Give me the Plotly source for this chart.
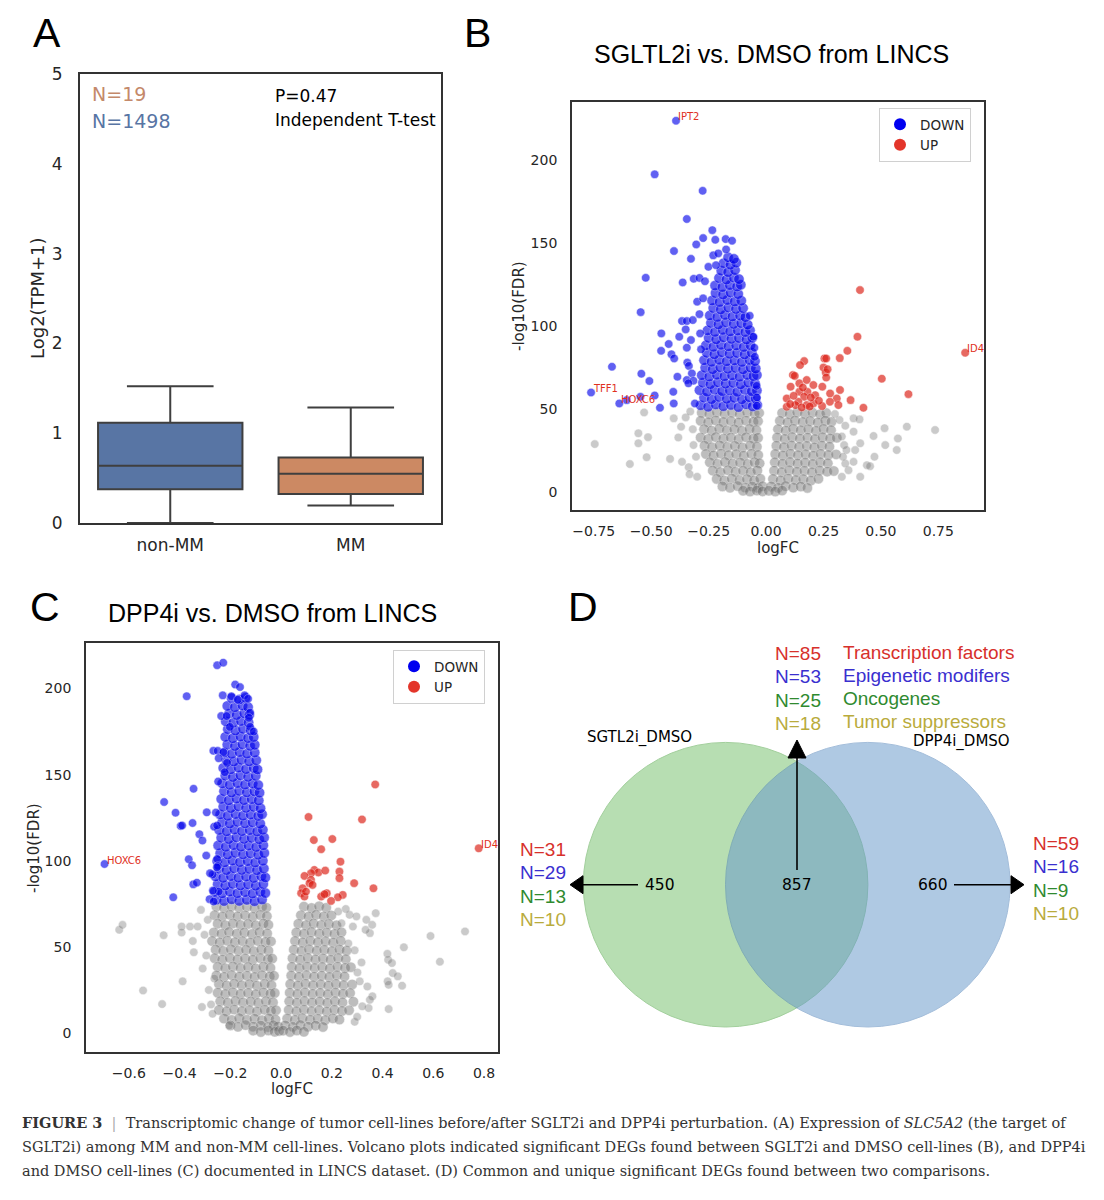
import plotly.graph_objects as go

# ---------- CONFIG ----------
W, H = 1104, 1200
SANS = "Liberation Sans, Arial, sans-serif"
DJV = "DejaVu Sans, sans-serif"
SERIF = "DejaVu Serif, serif"
INK = "#262626"
FRAME = "#333333"

BLUE = "rgb(0,0,235)"
RED = "rgb(220,35,25)"
GRAY = "rgb(110,110,110)"

# ---------- DATA: panel A (box summary) ----------
A_GROUPS = ["non-MM", "MM"]
A_Q1 = [0.377, 0.324]
A_MED = [0.638, 0.548]
A_Q3 = [1.117, 0.730]
A_LO = [0.0, 0.195]
A_HI = [1.524, 1.287]
A_FILL = ["#5875a4", "#cc8963"]
A_N_MM, A_N_NONMM = 19, 1498
A_PVAL = 0.47
A_YTICKS = [0, 1, 2, 3, 4, 5]

# ---------- DATA: panel B (SGLT2i vs DMSO), (logFC, -log10 FDR) ----------
B_DOWN_OUT = [
    (-0.392, 223.7), (-0.485, 191.4), (-0.276, 181.5), (-0.345, 164.5), (-0.234, 157.8),
    (-0.274, 153.0), (-0.221, 152.0), (-0.176, 152.4), (-0.148, 151.4), (-0.304, 149.2),
    (-0.401, 145.2), (-0.174, 146.2), (-0.230, 142.6), (-0.208, 143.8), (-0.327, 140.5),
    (-0.524, 129.1), (-0.546, 108.4), (-0.363, 126.3), (-0.315, 128.5), (-0.290, 129.0),
    (-0.266, 127.0), (-0.671, 75.5), (-0.762, 60.0), (-0.639, 53.4), (-0.607, 55.4),
    (-0.543, 71.3), (-0.508, 66.9), (-0.547, 57.4), (-0.485, 58.2), (-0.462, 50.8),
    (-0.456, 95.6), (-0.424, 89.2), (-0.457, 85.1), (-0.412, 83.0), (-0.400, 80.5),
    (-0.386, 69.5), (-0.404, 60.4), (-0.402, 53.4), (-0.378, 93.6), (-0.366, 103.0),
    (-0.345, 103.0), (-0.350, 98.0), (-0.327, 91.6), (-0.345, 87.0), (-0.343, 78.0),
    (-0.336, 76.0), (-0.319, 103.6), (-0.290, 107.2), (-0.300, 114.7), (-0.274, 116.7),
    (-0.287, 95.6), (-0.283, 86.0), (-0.310, 53.4), (-0.071, 106.2), (-0.055, 93.6),
    (-0.051, 87.0), (-0.049, 81.5), (-0.041, 64.0), (-0.040, 57.0), (-0.040, 52.0),
    (-0.323, 71.5), (-0.345, 67.5), (-0.316, 67.1), (-0.338, 65.5), (-0.251, 135.7),
    (-0.218, 136.7),
]
B_DOWN_CORE = [
    (-0.285, 52.3), (-0.252, 51.4), (-0.219, 52.8), (-0.186, 51.7), (-0.153, 52.5), (-0.120, 51.2), (-0.087, 52.9), (-0.058, 51.6), (-0.038, 52.4),
    (-0.270, 56.9), (-0.237, 56.0), (-0.204, 57.3), (-0.171, 56.2), (-0.138, 56.8), (-0.105, 55.9), (-0.072, 57.1), (-0.045, 56.3),
    (-0.290, 61.4), (-0.257, 60.5), (-0.224, 61.7), (-0.191, 60.8), (-0.158, 61.3), (-0.125, 60.4), (-0.092, 61.6), (-0.062, 60.7), (-0.040, 61.2),
    (-0.275, 65.9), (-0.242, 65.0), (-0.209, 66.1), (-0.176, 65.3), (-0.143, 65.8), (-0.110, 64.9), (-0.077, 66.0), (-0.048, 65.4),
    (-0.280, 70.4), (-0.247, 69.6), (-0.214, 70.7), (-0.181, 69.8), (-0.148, 70.3), (-0.115, 69.5), (-0.082, 70.6), (-0.055, 69.9), (-0.040, 70.5),
    (-0.265, 74.9), (-0.232, 74.0), (-0.199, 75.2), (-0.166, 74.3), (-0.133, 74.8), (-0.100, 73.9), (-0.067, 75.0), (-0.045, 74.4),
    (-0.270, 79.4), (-0.237, 78.5), (-0.204, 79.7), (-0.171, 78.8), (-0.138, 79.3), (-0.105, 78.4), (-0.072, 79.6), (-0.048, 78.9),
    (-0.258, 83.9), (-0.225, 83.0), (-0.192, 84.2), (-0.159, 83.3), (-0.126, 83.8), (-0.093, 82.9), (-0.062, 84.0),
    (-0.262, 88.4), (-0.229, 87.5), (-0.196, 88.7), (-0.163, 87.8), (-0.130, 88.3), (-0.097, 87.4), (-0.068, 88.5),
    (-0.250, 92.9), (-0.217, 92.0), (-0.184, 93.2), (-0.151, 92.3), (-0.118, 92.8), (-0.085, 91.9), (-0.060, 93.0),
    (-0.255, 97.4), (-0.222, 96.5), (-0.189, 97.7), (-0.156, 96.8), (-0.123, 97.3), (-0.090, 96.4), (-0.070, 97.5),
    (-0.240, 101.9), (-0.207, 101.0), (-0.174, 102.2), (-0.141, 101.3), (-0.108, 101.8), (-0.080, 100.9),
    (-0.245, 106.4), (-0.212, 105.5), (-0.179, 106.7), (-0.146, 105.8), (-0.113, 106.3), (-0.090, 105.4),
    (-0.230, 110.9), (-0.197, 110.0), (-0.164, 111.2), (-0.131, 110.3), (-0.100, 110.8),
    (-0.235, 115.4), (-0.202, 114.5), (-0.169, 115.7), (-0.136, 114.8), (-0.108, 115.3),
    (-0.220, 119.9), (-0.187, 119.0), (-0.154, 120.2), (-0.121, 119.3),
    (-0.222, 124.4), (-0.190, 123.5), (-0.158, 124.7), (-0.126, 123.8), (-0.110, 124.9),
    (-0.205, 128.9), (-0.172, 128.0), (-0.140, 129.2), (-0.118, 128.3),
    (-0.195, 133.4), (-0.165, 132.5), (-0.135, 133.7),
    (-0.185, 137.9), (-0.155, 137.0), (-0.130, 138.2),
    (-0.165, 141.4), (-0.140, 140.5),
]

B_UP = [
    (0.409, 121.7), (0.398, 93.6), (0.354, 85.1), (0.321, 80.7), (0.254, 80.5), (0.262, 80.5),
    (0.504, 68.3), (0.620, 59.0), (0.424, 50.8), (0.867, 83.9), (0.166, 78.9), (0.148, 76.5),
    (0.250, 75.0), (0.260, 72.0), (0.268, 74.0), (0.117, 70.5), (0.125, 70.0), (0.107, 63.5),
    (0.145, 65.5), (0.177, 67.5), (0.206, 64.5), (0.180, 60.4), (0.145, 60.4), (0.166, 57.4),
    (0.141, 54.4), (0.177, 52.4), (0.214, 58.4), (0.245, 63.5), (0.279, 59.4), (0.322, 61.5),
    (0.308, 56.4), (0.278, 54.4), (0.368, 55.4), (0.244, 51.8), (0.090, 56.4), (0.090, 51.4),
    (0.128, 52.4), (0.206, 53.4), (0.315, 52.4), (0.105, 53.0), (0.160, 63.0), (0.195, 57.0),
    (0.262, 69.0), (0.230, 55.0), (0.120, 58.0), (0.155, 51.0), (0.190, 51.5),
]

B_GRAY_CORE = [
    # left lobe
    (-0.280, 47.8), (-0.247, 47.0), (-0.214, 48.1), (-0.181, 47.2), (-0.148, 47.9), (-0.115, 46.9), (-0.082, 48.0), (-0.050, 47.3), (-0.030, 47.7),
    (-0.285, 42.9), (-0.252, 42.0), (-0.219, 43.1), (-0.186, 42.2), (-0.153, 42.8), (-0.120, 41.9), (-0.087, 43.0), (-0.055, 42.3), (-0.035, 42.7),
    (-0.270, 37.9), (-0.237, 37.0), (-0.204, 38.1), (-0.171, 37.2), (-0.138, 37.8), (-0.105, 36.9), (-0.072, 38.0), (-0.042, 37.3),
    (-0.285, 32.9), (-0.252, 32.0), (-0.219, 33.1), (-0.186, 32.2), (-0.153, 32.8), (-0.120, 31.9), (-0.087, 33.0), (-0.055, 32.3), (-0.035, 32.7),
    (-0.268, 27.9), (-0.235, 27.0), (-0.202, 28.1), (-0.169, 27.2), (-0.136, 27.8), (-0.103, 26.9), (-0.070, 28.0), (-0.040, 27.3),
    (-0.262, 22.9), (-0.229, 22.0), (-0.196, 23.1), (-0.163, 22.2), (-0.130, 22.8), (-0.097, 21.9), (-0.064, 23.0), (-0.034, 22.3),
    (-0.245, 17.9), (-0.212, 17.0), (-0.179, 18.1), (-0.146, 17.2), (-0.113, 17.8), (-0.080, 16.9), (-0.050, 18.0), (-0.028, 17.3),
    (-0.232, 12.9), (-0.199, 12.0), (-0.166, 13.1), (-0.133, 12.2), (-0.100, 12.8), (-0.067, 11.9), (-0.038, 13.0),
    (-0.215, 7.9), (-0.182, 7.0), (-0.149, 8.1), (-0.116, 7.2), (-0.083, 7.8), (-0.052, 6.9), (-0.025, 8.0),
    (-0.190, 3.4), (-0.157, 2.6), (-0.124, 3.6), (-0.091, 2.7), (-0.060, 3.3), (-0.035, 2.5), (-0.015, 3.5),
    (-0.100, 0.8), (-0.070, 0.3), (-0.040, 0.9), (-0.015, 0.4),
    # right lobe
    (0.070, 47.7), (0.103, 47.0), (0.136, 48.1), (0.169, 47.2), (0.202, 47.9), (0.235, 46.9), (0.262, 47.6),
    (0.060, 42.9), (0.093, 42.0), (0.126, 43.1), (0.159, 42.2), (0.192, 42.8), (0.225, 41.9), (0.258, 43.0), (0.285, 42.3),
    (0.052, 37.9), (0.085, 37.0), (0.118, 38.1), (0.151, 37.2), (0.184, 37.8), (0.217, 36.9), (0.250, 38.0), (0.283, 37.3),
    (0.048, 32.9), (0.081, 32.0), (0.114, 33.1), (0.147, 32.2), (0.180, 32.8), (0.213, 31.9), (0.246, 33.0), (0.279, 32.3), (0.308, 32.7),
    (0.045, 27.9), (0.078, 27.0), (0.111, 28.1), (0.144, 27.2), (0.177, 27.8), (0.210, 26.9), (0.243, 28.0), (0.276, 27.3),
    (0.040, 22.9), (0.073, 22.0), (0.106, 23.1), (0.139, 22.2), (0.172, 22.8), (0.205, 21.9), (0.238, 23.0), (0.271, 22.3), (0.305, 22.7),
    (0.038, 17.9), (0.071, 17.0), (0.104, 18.1), (0.137, 17.2), (0.170, 17.8), (0.203, 16.9), (0.236, 18.0), (0.269, 17.3),
    (0.035, 12.9), (0.068, 12.0), (0.101, 13.1), (0.134, 12.2), (0.167, 12.8), (0.200, 11.9), (0.233, 13.0), (0.266, 12.3), (0.295, 12.7),
    (0.030, 7.9), (0.063, 7.0), (0.096, 8.1), (0.129, 7.2), (0.162, 7.8), (0.195, 6.9), (0.228, 8.0),
    (0.022, 3.4), (0.052, 2.6), (0.085, 3.6), (0.118, 2.7), (0.151, 3.3), (0.180, 2.5),
    (0.012, 0.8), (0.040, 0.3), (0.070, 0.9),
]
B_GRAY_OUT = [
    (-0.746, 28.9), (-0.593, 16.9), (-0.556, 29.4), (-0.556, 35.4), (-0.514, 33.1), (-0.520, 21.0),
    (-0.531, 48.0), (-0.418, 20.0), (-0.402, 44.4), (-0.370, 39.4), (-0.366, 18.2), (-0.382, 32.9),
    (-0.337, 15.0), (-0.333, 10.8), (-0.316, 28.3), (-0.319, 37.9), (-0.300, 9.2), (-0.305, 21.3),
    (-0.350, 45.0), (-0.330, 48.5),
    (0.381, 44.4), (0.407, 43.8), (0.381, 36.4), (0.468, 33.8), (0.516, 38.5), (0.574, 32.3),
    (0.613, 39.4), (0.736, 37.4), (0.519, 28.3), (0.569, 25.3), (0.472, 21.3), (0.439, 16.2),
    (0.453, 15.6), (0.410, 9.2), (0.359, 13.2), (0.381, 18.2), (0.345, 17.2), (0.410, 29.4),
    (0.388, 25.3), (0.330, 33.5), (0.340, 28.3), (0.350, 25.3), (0.320, 43.4), (0.335, 21.3),
    (0.330, 9.2), (0.300, 47.0), (0.345, 40.0),
]

B_LABELS = ["IPT2", "TFF1", "HOXC6", "ID4"]
B_LABEL_X = [-0.392, -0.762, -0.639, 0.867]
B_LABEL_Y = [223.7, 60.0, 53.4, 83.9]
B_XTICKS = [-0.75, -0.50, -0.25, 0.0, 0.25, 0.50, 0.75]
B_XTICKTEXT = ["\u22120.75", "\u22120.50", "\u22120.25", "0.00", "0.25", "0.50", "0.75"]
B_YTICKS = [0, 50, 100, 150, 200]

# ---------- DATA: panel C (DPP4i vs DMSO) ----------
C_DOWN_OUT = [
    (-0.252, 213.5), (-0.228, 215.0), (-0.372, 195.5), (-0.181, 202.3), (-0.162, 200.8),
    (-0.230, 196.0), (-0.196, 195.5), (-0.144, 196.0), (-0.130, 194.0), (-0.171, 193.5),
    (-0.236, 184.0), (-0.215, 184.0), (-0.122, 186.0), (-0.127, 183.0), (-0.202, 177.7),
    (-0.122, 177.7), (-0.108, 175.0), (-0.267, 163.8), (-0.250, 163.8), (-0.227, 163.0),
    (-0.246, 159.5), (-0.213, 156.8), (-0.222, 151.4), (-0.248, 146.0), (-0.345, 141.8),
    (-0.461, 134.1), (-0.416, 127.9), (-0.396, 120.2), (-0.390, 120.5), (-0.349, 121.9),
    (-0.322, 115.4), (-0.310, 111.7), (-0.293, 128.1), (-0.257, 128.0), (-0.264, 119.8),
    (-0.252, 120.5), (-0.364, 100.9), (-0.351, 97.4), (-0.295, 103.0), (-0.252, 101.0),
    (-0.249, 97.0), (-0.270, 92.0), (-0.696, 98.1), (-0.425, 78.8), (-0.346, 86.3),
    (-0.332, 87.3), (-0.282, 77.7), (-0.266, 76.3), (-0.280, 92.8), (-0.253, 96.2),
    (-0.246, 82.1), (-0.269, 82.7),
]
C_DOWN_CORE = [
    (-0.255, 77.4), (-0.225, 76.6), (-0.195, 77.6), (-0.165, 76.7), (-0.135, 77.3), (-0.105, 76.5), (-0.075, 77.5),
    (-0.262, 81.9), (-0.232, 81.1), (-0.202, 82.1), (-0.172, 81.2), (-0.142, 81.8), (-0.112, 81.0), (-0.082, 82.0), (-0.062, 81.3),
    (-0.250, 86.4), (-0.220, 85.6), (-0.190, 86.6), (-0.160, 85.7), (-0.130, 86.3), (-0.100, 85.5), (-0.070, 86.5),
    (-0.258, 90.9), (-0.228, 90.1), (-0.198, 91.1), (-0.168, 90.2), (-0.138, 90.8), (-0.108, 90.0), (-0.078, 91.0), (-0.062, 90.3),
    (-0.245, 95.4), (-0.215, 94.6), (-0.185, 95.6), (-0.155, 94.7), (-0.125, 95.3), (-0.095, 94.5), (-0.068, 95.5),
    (-0.252, 99.9), (-0.222, 99.1), (-0.192, 100.1), (-0.162, 99.2), (-0.132, 99.8), (-0.102, 99.0), (-0.072, 100.0),
    (-0.240, 104.4), (-0.210, 103.6), (-0.180, 104.6), (-0.150, 103.7), (-0.120, 104.3), (-0.090, 103.5), (-0.066, 104.5),
    (-0.248, 108.9), (-0.218, 108.1), (-0.188, 109.1), (-0.158, 108.2), (-0.128, 108.8), (-0.098, 108.0), (-0.070, 109.0),
    (-0.236, 113.4), (-0.206, 112.6), (-0.176, 113.6), (-0.146, 112.7), (-0.116, 113.3), (-0.086, 112.5), (-0.067, 113.5),
    (-0.244, 117.9), (-0.214, 117.1), (-0.184, 118.1), (-0.154, 117.2), (-0.124, 117.8), (-0.094, 117.0), (-0.072, 118.0),
    (-0.232, 122.4), (-0.202, 121.6), (-0.172, 122.6), (-0.142, 121.7), (-0.112, 122.3), (-0.082, 121.5),
    (-0.240, 126.9), (-0.210, 126.1), (-0.180, 127.1), (-0.150, 126.2), (-0.120, 126.8), (-0.090, 126.0), (-0.075, 127.0),
    (-0.228, 131.4), (-0.198, 130.6), (-0.168, 131.6), (-0.138, 130.7), (-0.108, 131.3), (-0.081, 130.5),
    (-0.236, 135.9), (-0.206, 135.1), (-0.176, 136.1), (-0.146, 135.2), (-0.116, 135.8), (-0.088, 135.0),
    (-0.225, 140.4), (-0.195, 139.6), (-0.165, 140.6), (-0.135, 139.7), (-0.105, 140.3), (-0.085, 139.5),
    (-0.232, 144.9), (-0.202, 144.1), (-0.172, 145.1), (-0.142, 144.2), (-0.112, 144.8), (-0.090, 144.0),
    (-0.220, 149.4), (-0.190, 148.6), (-0.160, 149.6), (-0.130, 148.7), (-0.100, 149.3),
    (-0.228, 153.9), (-0.198, 153.1), (-0.168, 154.1), (-0.138, 153.2), (-0.108, 153.8), (-0.093, 153.0),
    (-0.216, 158.4), (-0.186, 157.6), (-0.156, 158.6), (-0.126, 157.7), (-0.098, 158.3),
    (-0.224, 162.9), (-0.194, 162.1), (-0.164, 163.1), (-0.134, 162.2), (-0.104, 162.8),
    (-0.212, 167.4), (-0.182, 166.6), (-0.152, 167.6), (-0.122, 166.7), (-0.104, 167.3),
    (-0.220, 171.9), (-0.190, 171.1), (-0.160, 172.1), (-0.130, 171.2), (-0.108, 171.8),
    (-0.210, 176.4), (-0.180, 175.6), (-0.150, 176.6), (-0.120, 175.7),
    (-0.218, 180.9), (-0.188, 180.1), (-0.158, 181.1), (-0.128, 180.2),
    (-0.205, 185.4), (-0.175, 184.6), (-0.145, 185.6), (-0.125, 184.7),
    (-0.212, 189.9), (-0.182, 189.1), (-0.152, 190.1), (-0.130, 189.2),
    (-0.195, 194.4), (-0.165, 193.6), (-0.140, 194.6),
]

C_UP = [
    (0.371, 144.3), (0.108, 125.4), (0.319, 124.0), (0.129, 112.0), (0.202, 112.6), (0.158, 106.7),
    (0.234, 99.5), (0.131, 94.7), (0.147, 93.2), (0.118, 92.8), (0.092, 91.2), (0.174, 94.3),
    (0.230, 93.7), (0.230, 89.9), (0.118, 88.9), (0.112, 87.0), (0.124, 86.0), (0.085, 84.0),
    (0.079, 81.2), (0.092, 79.2), (0.288, 87.0), (0.364, 84.0), (0.243, 80.2), (0.224, 78.8),
    (0.197, 76.7), (0.180, 81.2), (0.158, 79.2), (0.171, 80.6), (0.098, 82.1), (0.779, 107.2),
]

C_GRAY_CORE = [
    # left lobe
    (-0.255, 73.4), (-0.225, 72.6), (-0.195, 73.6), (-0.165, 72.7), (-0.135, 73.3), (-0.105, 72.5), (-0.075, 73.5), (-0.058, 72.8),
    (-0.262, 68.4), (-0.232, 67.6), (-0.202, 68.6), (-0.172, 67.7), (-0.142, 68.3), (-0.112, 67.5), (-0.082, 68.5), (-0.056, 67.8),
    (-0.250, 63.4), (-0.220, 62.6), (-0.190, 63.6), (-0.160, 62.7), (-0.130, 63.3), (-0.100, 62.5), (-0.070, 63.5), (-0.050, 62.8),
    (-0.265, 58.4), (-0.235, 57.6), (-0.205, 58.6), (-0.175, 57.7), (-0.145, 58.3), (-0.115, 57.5), (-0.085, 58.5), (-0.055, 57.8),
    (-0.272, 53.4), (-0.242, 52.6), (-0.212, 53.6), (-0.182, 52.7), (-0.152, 53.3), (-0.122, 52.5), (-0.092, 53.5), (-0.062, 52.8), (-0.040, 53.2),
    (-0.258, 48.4), (-0.228, 47.6), (-0.198, 48.6), (-0.168, 47.7), (-0.138, 48.3), (-0.108, 47.5), (-0.078, 48.5), (-0.050, 47.8),
    (-0.262, 43.4), (-0.232, 42.6), (-0.202, 43.6), (-0.172, 42.7), (-0.142, 43.3), (-0.112, 42.5), (-0.082, 43.5), (-0.052, 42.8), (-0.035, 43.2),
    (-0.250, 38.4), (-0.220, 37.6), (-0.190, 38.6), (-0.160, 37.7), (-0.130, 38.3), (-0.100, 37.5), (-0.070, 38.5), (-0.042, 37.8),
    (-0.255, 33.4), (-0.225, 32.6), (-0.195, 33.6), (-0.165, 32.7), (-0.135, 33.3), (-0.105, 32.5), (-0.075, 33.5), (-0.045, 32.8), (-0.028, 33.2),
    (-0.245, 28.4), (-0.215, 27.6), (-0.185, 28.6), (-0.155, 27.7), (-0.125, 28.3), (-0.095, 27.5), (-0.065, 28.5), (-0.038, 27.8),
    (-0.250, 23.4), (-0.220, 22.6), (-0.190, 23.6), (-0.160, 22.7), (-0.130, 23.3), (-0.100, 22.5), (-0.070, 23.5), (-0.042, 22.8), (-0.025, 23.2),
    (-0.240, 18.4), (-0.210, 17.6), (-0.180, 18.6), (-0.150, 17.7), (-0.120, 18.3), (-0.090, 17.5), (-0.060, 18.5), (-0.032, 17.8),
    (-0.245, 13.4), (-0.215, 12.6), (-0.185, 13.6), (-0.155, 12.7), (-0.125, 13.3), (-0.095, 12.5), (-0.065, 13.5), (-0.040, 12.8), (-0.020, 13.2),
    (-0.225, 8.4), (-0.195, 7.6), (-0.165, 8.6), (-0.135, 7.7), (-0.105, 8.3), (-0.075, 7.5), (-0.048, 8.5), (-0.022, 7.8),
    (-0.200, 4.4), (-0.170, 3.6), (-0.140, 4.6), (-0.110, 3.7), (-0.080, 4.3), (-0.052, 3.5), (-0.030, 4.5), (-0.012, 3.8),
    (-0.110, 1.4), (-0.080, 0.6), (-0.050, 1.5), (-0.025, 0.7), (-0.008, 1.2),
    # right lobe
    (0.090, 73.4), (0.120, 72.6), (0.150, 73.6), (0.178, 72.7),
    (0.078, 68.4), (0.108, 67.6), (0.138, 68.6), (0.168, 67.7), (0.198, 68.3),
    (0.068, 63.4), (0.098, 62.6), (0.128, 63.6), (0.158, 62.7), (0.188, 63.3), (0.218, 62.5),
    (0.060, 58.4), (0.090, 57.6), (0.120, 58.6), (0.150, 57.7), (0.180, 58.3), (0.210, 57.5), (0.238, 58.5),
    (0.055, 53.4), (0.085, 52.6), (0.115, 53.6), (0.145, 52.7), (0.175, 53.3), (0.205, 52.5), (0.235, 53.5),
    (0.050, 48.4), (0.080, 47.6), (0.110, 48.6), (0.140, 47.7), (0.170, 48.3), (0.200, 47.5), (0.230, 48.5), (0.258, 47.8),
    (0.045, 43.4), (0.075, 42.6), (0.105, 43.6), (0.135, 42.7), (0.165, 43.3), (0.195, 42.5), (0.225, 43.5), (0.255, 42.8),
    (0.042, 38.4), (0.072, 37.6), (0.102, 38.6), (0.132, 37.7), (0.162, 38.3), (0.192, 37.5), (0.222, 38.5), (0.252, 37.8), (0.275, 38.2),
    (0.040, 33.4), (0.070, 32.6), (0.100, 33.6), (0.130, 32.7), (0.160, 33.3), (0.190, 32.5), (0.220, 33.5), (0.250, 32.8),
    (0.036, 28.4), (0.066, 27.6), (0.096, 28.6), (0.126, 27.7), (0.156, 28.3), (0.186, 27.5), (0.216, 28.5), (0.246, 27.8), (0.280, 28.2),
    (0.034, 23.4), (0.064, 22.6), (0.094, 23.6), (0.124, 22.7), (0.154, 23.3), (0.184, 22.5), (0.214, 23.5), (0.244, 22.8), (0.272, 23.2),
    (0.032, 18.4), (0.062, 17.6), (0.092, 18.6), (0.122, 17.7), (0.152, 18.3), (0.182, 17.5), (0.212, 18.5), (0.242, 17.8), (0.285, 18.2),
    (0.030, 13.4), (0.060, 12.6), (0.090, 13.6), (0.120, 12.7), (0.150, 13.3), (0.180, 12.5), (0.210, 13.5), (0.240, 12.8), (0.268, 13.2),
    (0.024, 8.4), (0.054, 7.6), (0.084, 8.6), (0.114, 7.7), (0.144, 8.3), (0.174, 7.5), (0.204, 8.5), (0.230, 7.8),
    (0.016, 4.4), (0.046, 3.6), (0.076, 4.6), (0.106, 3.7), (0.136, 4.3), (0.165, 3.5),
    (0.008, 1.4), (0.035, 0.6), (0.062, 1.5), (0.090, 0.7),
]
C_GRAY_OUT = [
    (-0.638, 59.9), (-0.625, 62.8), (-0.544, 24.7), (-0.469, 16.8), (-0.463, 56.8), (-0.388, 30.0),
    (-0.392, 61.8), (-0.392, 58.3), (-0.359, 61.8), (-0.329, 61.8), (-0.348, 53.4), (-0.344, 46.9),
    (-0.309, 37.4), (-0.263, 31.6), (-0.312, 15.1), (-0.276, 16.6), (-0.270, 11.2), (-0.204, 4.4),
    (-0.316, 71.5), (-0.289, 65.7), (-0.302, 57.0), (-0.295, 45.0), (-0.285, 25.0),
    (0.373, 69.6), (0.336, 65.7), (0.359, 62.8), (0.350, 58.0), (0.333, 59.9), (0.484, 49.8),
    (0.419, 46.0), (0.422, 42.5), (0.437, 40.6), (0.440, 34.8), (0.420, 30.0), (0.424, 28.0),
    (0.460, 32.9), (0.477, 27.5), (0.424, 13.9), (0.589, 56.3), (0.626, 41.4), (0.725, 59.0),
    (0.270, 68.6), (0.297, 67.7), (0.283, 61.8), (0.238, 63.7), (0.340, 27.0), (0.360, 21.3),
    (0.345, 14.5), (0.350, 19.3), (0.320, 15.5), (0.290, 6.5), (0.300, 9.4), (0.317, 41.0),
    (0.301, 35.2), (0.265, 52.0), (0.290, 48.0), (0.310, 30.0), (0.255, 72.0), (0.225, 70.5),
]

C_LABELS = ["HOXC6", "ID4"]
C_LABEL_X = [-0.696, 0.779]
C_LABEL_Y = [98.1, 107.2]
C_XTICKS = [-0.6, -0.4, -0.2, 0.0, 0.2, 0.4, 0.6, 0.8]
C_XTICKTEXT = ["\u22120.6", "\u22120.4", "\u22120.2", "0.0", "0.2", "0.4", "0.6", "0.8"]
C_YTICKS = [0, 50, 100, 150, 200]

# ---------- DATA: panel D (Venn) ----------
VENN_SETS = ["SGTL2i_DMSO", "DPP4i_DMSO"]
VENN_COUNTS = [450, 857, 660]  # left only, shared, right only
CATEGORIES = ["Transcription factors", "Epigenetic modifers", "Oncogenes", "Tumor suppressors"]
CAT_COLORS = ["#d7302b", "#3a2fcf", "#2f8a2f", "#b9ab3c"]
N_LEFT = [31, 29, 13, 10]
N_SHARED = [85, 53, 25, 18]
N_RIGHT = [59, 16, 9, 10]

CAPTION = [
    "<b>FIGURE 3</b>  <span style='color:#aaaaaa'>|</span>  Transcriptomic change of tumor cell-lines "
    "before/after SGLT2i and DPP4i perturbation. (A) Expression of <i>SLC5A2</i> (the target of",
    "SGLT2i) among MM and non-MM cell-lines. Volcano plots indicated significant DEGs found between "
    "SGLT2i and DMSO cell-lines (B), and DPP4i",
    "and DMSO cell-lines (C) documented in LINCS dataset. (D) Common and unique significant DEGs "
    "found between two comparisons.",
]


def xy(points):
    return [p[0] for p in points], [p[1] for p in points]


def dom_x(a, b):
    return [a / W, b / W]


def dom_y(top, bottom):
    return [1 - bottom / H, 1 - top / H]


fig = go.Figure()
annotations = []
shapes = []


def text(s, x, y, size, color="#000000", family=SANS, xanchor="center", yanchor="middle", **kw):
    # all free text lives on the overlay axis, which is measured in page pixels
    annotations.append(dict(text=s, x=x, y=y, xref="x4", yref="y4", showarrow=False,
                            xanchor=xanchor, yanchor=yanchor,
                            font=dict(size=size, color=color, family=family), **kw))


# ---------- panel A ----------
for i, g in enumerate(A_GROUPS):
    fig.add_trace(go.Box(
        x=[g], q1=[A_Q1[i]], median=[A_MED[i]], q3=[A_Q3[i]],
        lowerfence=[A_LO[i]], upperfence=[A_HI[i]],
        fillcolor=A_FILL[i], line=dict(color="#3f3f3f", width=2),
        width=0.8, whiskerwidth=0.6, boxpoints=False,
        showlegend=False, hoverinfo="skip", xaxis="x", yaxis="y",
    ))


# ---------- panels B and C ----------
# the dense cores stand in for thousands of overlapping genes, so they get larger marks
def add_volcano(gray_core, gray_out, down_core, down_out, up, xa, ya, legend):
    layers = [(gray_core, GRAY, 0.45, 10.5), (gray_out, GRAY, 0.36, 8.5),
              (down_core, BLUE, 0.62, 10.5), (down_out, BLUE, 0.62, 8.5), (up, RED, 0.68, 8.5)]
    for pts, color, op, size in layers:
        xs, ys = xy(pts)
        fig.add_trace(go.Scatter(
            x=xs, y=ys, mode="markers",
            marker=dict(size=size, color=color, opacity=op, line=dict(color="white", width=0.5)),
            xaxis=xa, yaxis=ya, showlegend=False, hoverinfo="skip",
        ))
    for name, color in [("DOWN", "#0000f0"), ("UP", "#e3352a")]:
        fig.add_trace(go.Scatter(
            x=[None], y=[None], mode="markers", name=name,
            marker=dict(size=10, color=color), xaxis=xa, yaxis=ya, legend=legend,
        ))


add_volcano(B_GRAY_CORE, B_GRAY_OUT, B_DOWN_CORE, B_DOWN_OUT, B_UP, "x2", "y2", "legend")
add_volcano(C_GRAY_CORE, C_GRAY_OUT, C_DOWN_CORE, C_DOWN_OUT, C_UP, "x3", "y3", "legend2")

for names, xs, ys, xa, ya in [(B_LABELS, B_LABEL_X, B_LABEL_Y, "x2", "y2"),
                              (C_LABELS, C_LABEL_X, C_LABEL_Y, "x3", "y3")]:
    for n, lx, ly in zip(names, xs, ys):
        annotations.append(dict(text=n, x=lx, y=ly, xref=xa, yref=ya, showarrow=False,
                                xanchor="left", yanchor="middle", yshift=4,
                                font=dict(size=10, color="#e0301e", family=DJV)))

# overlay axis (pixel units) carrying the Venn diagram and free text
fig.add_trace(go.Scatter(x=[None], y=[None], xaxis="x4", yaxis="y4", showlegend=False))

# ---------- panel D ----------
GC, BC, R, CY = (725.6, 884.7), (867.8, 884.7), 142.3, 884.7
shapes.append(dict(type="circle", xref="x4", yref="y4", layer="below",
                   x0=GC[0] - R, x1=GC[0] + R, y0=CY - R, y1=CY + R,
                   fillcolor="#b7deb2", line=dict(color="#a2cf9c", width=1)))
shapes.append(dict(type="circle", xref="x4", yref="y4", layer="below",
                   x0=BC[0] - R, x1=BC[0] + R, y0=CY - R, y1=CY + R,
                   fillcolor="rgb(103,153,203)", opacity=0.52, line=dict(color="rgb(80,130,185)", width=1)))

# arrows
for x0, y0, x1, y1 in [(797, 870, 797, 756), (638, CY, 581, CY), (954, CY, 1012, CY)]:
    shapes.append(dict(type="line", xref="x4", yref="y4", x0=x0, y0=y0, x1=x1, y1=y1,
                       line=dict(color="black", width=1.6)))
for path in ["M 797,740 L 788,758 L 806,758 Z",
             "M 570,884.7 L 583,875.7 L 583,893.7 Z",
             "M 1024,884.7 L 1011,875.7 L 1011,893.7 Z"]:
    shapes.append(dict(type="path", xref="x4", yref="y4", path=path,
                       fillcolor="black", line=dict(color="black", width=1)))

text(str(VENN_COUNTS[0]), 660, CY, 15.5, family=DJV)
text(str(VENN_COUNTS[1]), 797, CY, 15.5, family=DJV)
text(str(VENN_COUNTS[2]), 933, CY, 15.5, family=DJV)
text(VENN_SETS[0], 639, 737, 15, family=DJV)
text(VENN_SETS[1], 961, 741, 15, family=DJV)

for i in range(4):
    text(f"N={N_SHARED[i]}", 823, 653.5 + 23.3 * i, 19, CAT_COLORS[i], xanchor="right")
    text(CATEGORIES[i], 841, 652 + 23.3 * i, 19, CAT_COLORS[i], xanchor="left")
    text(f"N={N_LEFT[i]}", 543, 849.5 + 23.3 * i, 19, CAT_COLORS[i])
    text(f"N={N_RIGHT[i]}", 1031, 843.5 + 23.3 * i, 19, CAT_COLORS[i], xanchor="left")

# ---------- panel letters, titles, axis labels ----------
text("A", 47, 33, 41)
text("B", 477, 33, 41)
text("C", 45, 607, 41)
text("D", 583, 607, 41)
text("SGLTL2i vs. DMSO from LINCS", 771, 54, 25)
text("DPP4i vs. DMSO from LINCS", 272, 613, 25)

text("Log2(TPM+1)", 37, 298, 18, INK, DJV, textangle=-90)
text("-log10(FDR)", 519, 306, 15, INK, DJV, textangle=-90)
text("logFC", 778, 548, 15, INK, DJV)
text("-log10(FDR)", 34, 848, 15, INK, DJV, textangle=-90)
text("logFC", 292, 1089, 15, INK, DJV)

text(f"N={A_N_MM}", 90, 94, 19, "#c4896a", DJV, xanchor="left")
text(f"N={A_N_NONMM}", 90, 121, 19, "#5875a4", DJV, xanchor="left")
text(f"P={A_PVAL}", 273, 96, 17, "#000000", DJV, xanchor="left")
text("Independent T-test", 273, 120, 17, "#000000", DJV, xanchor="left")

for k, line in enumerate(CAPTION):
    text(line, 20, 1123 + 24 * k, 14.5, "#333333", SERIF, xanchor="left")

# ---------- axes ----------
tick_font = dict(family=DJV, size=14, color=INK)
frame = dict(showline=True, mirror=True, linecolor=FRAME, linewidth=1.8, automargin=False,
             showgrid=False, zeroline=False, ticks="", ticklabelstandoff=7)
legend_style = dict(xanchor="left", yanchor="top", bgcolor="white", bordercolor="#d0d0d0",
                    borderwidth=1, font=dict(family=DJV, size=13.5, color=INK),
                    itemsizing="constant")

fig.update_layout(
    width=W, height=H,
    margin=dict(l=0, r=0, t=0, b=0, pad=0, autoexpand=False),
    paper_bgcolor="white", plot_bgcolor="rgba(0,0,0,0)",
    xaxis=dict(domain=dom_x(80, 441), anchor="y", range=[-0.5, 1.5], type="category",
               tickfont=dict(family=DJV, size=17, color=INK), **{**frame, "linewidth": 2, "ticklabelstandoff": 6}),
    yaxis=dict(domain=dom_y(74, 523), anchor="x", range=[0, 5], tickvals=A_YTICKS,
               tickfont=dict(family=DJV, size=17, color=INK), **{**frame, "linewidth": 2, "ticklabelstandoff": 12}),
    xaxis2=dict(domain=dom_x(572, 984), anchor="y2", range=[-0.845, 0.949],
                tickvals=B_XTICKS, ticktext=B_XTICKTEXT, tickfont=tick_font, **frame),
    yaxis2=dict(domain=dom_y(102, 510), anchor="x2", range=[-10.8, 235],
                tickvals=B_YTICKS, tickfont=tick_font, **{**frame, "ticklabelstandoff": 10}),
    xaxis3=dict(domain=dom_x(86, 498), anchor="y3", range=[-0.769, 0.855],
                tickvals=C_XTICKS, ticktext=C_XTICKTEXT, tickfont=tick_font, **frame),
    yaxis3=dict(domain=dom_y(643, 1052), anchor="x3", range=[-11.0, 226.4],
                tickvals=C_YTICKS, tickfont=tick_font, **{**frame, "ticklabelstandoff": 10}),
    xaxis4=dict(domain=[0, 1], anchor="y4", range=[0, W], visible=False, fixedrange=True, automargin=False),
    yaxis4=dict(domain=[0, 1], anchor="x4", range=[H, 0], visible=False, fixedrange=True, automargin=False),
    legend=dict(x=879 / W, y=1 - 108 / H, **legend_style),
    legend2=dict(x=393 / W, y=1 - 650 / H, **legend_style),
    annotations=annotations,
    shapes=shapes,
)

fig.write_html(
    "out.html", config={"displayModeBar": False},
    post_script=("document.documentElement.style.margin='0';document.documentElement.style.padding='0';"
                 "document.body.style.margin='0';document.body.style.padding='0';"
                 "document.body.style.overflow='hidden';"),
)
